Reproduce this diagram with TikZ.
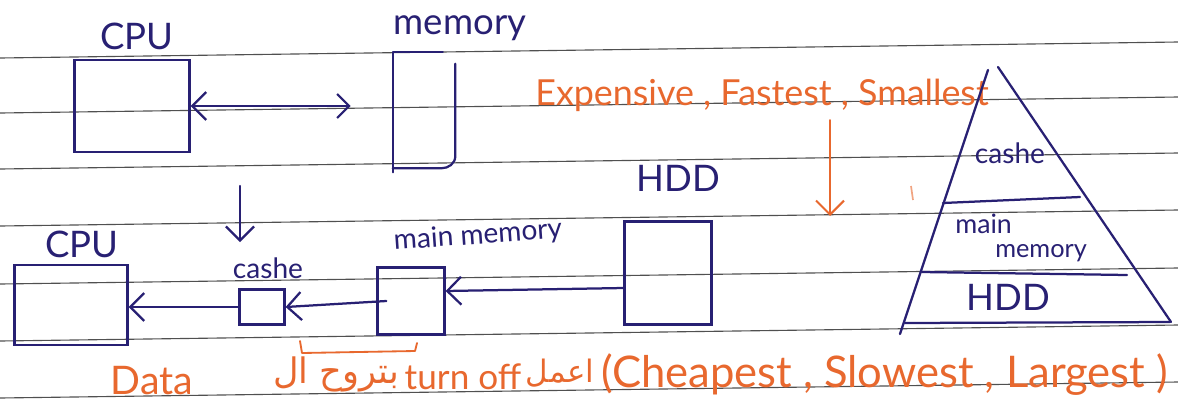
\documentclass[tikz,border=0pt]{standalone}
\usepackage{fontspec}
\setmainfont{Lato}
\newfontfamily\arabicfont[Script=Arabic]{DejaVu Sans}
\TeXXeTstate=1
\usetikzlibrary{arrows.meta}
\definecolor{ink}{RGB}{40,32,115}
\definecolor{pen}{RGB}{232,104,46}
\definecolor{rulec}{RGB}{80,80,80}
\tikzset{
  rule/.style={rulec, line width=0.8pt},
  inkline/.style={ink, line width=1.6pt, line cap=round, line join=round},
  box/.style={draw=ink, line width=1.6pt, inner sep=0pt},
  arr/.style={inkline, -{Straight Barb[length=3.5mm,width=7mm]}},
  oarr/.style={pen, line width=1.4pt, line cap=round, -{Straight Barb[length=3.5mm,width=7mm]}},
  lbl/.style={text=ink, inner sep=0pt, font=\fontsize{26}{28}\selectfont},
  slbl/.style={text=ink, inner sep=0pt, font=\fontsize{20}{22}\selectfont},
  olbl/.style={text=pen, inner sep=0pt, font=\fontsize{28}{30}\selectfont},
}
\begin{document}
\begin{tikzpicture}[x=0.025cm,y=-0.025cm]
\useasboundingbox[fill=white] (0,0) rectangle (1178,403);
% ruled lines
\foreach \yy in {58,113,169,226,284,341,398}
  \draw[rule] (0,\yy) -- (1178,\yy-16);

% ---- top row
\node[lbl] (cpuT) at (137,36) {CPU};
\node[lbl] (memT) at (460,28) {memory};
\node[box, minimum width=2.875cm, minimum height=2.3cm] (cpu1) at (132,106) {};
\node[minimum width=1.55cm, minimum height=3.0cm, inner sep=0pt] (mem1) at (424,112) {};
\draw[inkline] ([xshift=1.25cm]mem1.north west) -- (mem1.north west) -- (mem1.south west);
\draw[inkline] ([yshift=-0.3cm]mem1.north east) -- ([yshift=0.4cm]mem1.south east)
  to[out=-90,in=0] ([xshift=-0.35cm,yshift=0.1cm]mem1.south east) -- ([yshift=0.1cm]mem1.south west);
\draw[inkline, {Straight Barb[length=3.5mm,width=7mm]}-{Straight Barb[length=3mm,width=6mm]}, shorten >=1.05cm]
  (cpu1.east) -- (mem1.west |- cpu1.east);

% ---- second row
\coordinate (dn1) at (240,186);
\coordinate (dn2) at (240,242);
\draw[arr] (dn1) -- (dn2);
\node[lbl] (cpuB) at (82,244) {CPU};
\node[box, minimum width=2.825cm, minimum height=2.0cm] (cpu2) at (71,305) {};
\node[slbl] (cacheL) at (268,268) {cashe};
\node[box, minimum width=1.125cm, minimum height=0.875cm] (cache) at (262,307) {};
\node[slbl, rotate=4] (mmL) at (478,236) {main memory};
\node[box, minimum width=1.675cm, minimum height=1.675cm] (mm) at (411,301) {};
\node[lbl] (hddL) at (678,178) {HDD};
\node[box, minimum width=2.175cm, minimum height=2.575cm] (hdd) at (668,273) {};
\draw[arr] ([yshift=-0.375cm]hdd.west) -- ([yshift=0.25cm]mm.east);
\draw[arr] ([xshift=0.25cm]mm.west) -- (cache.east);
\draw[arr] (cache.west) -- (cpu2.east |- cache.west);

% orange bracket
\draw[pen, line width=1.3pt, line cap=round, line join=round]
  (300,341) -- (302,353) -- (415,351) -- (417,343);

% ---- right side
\node[olbl, anchor=west, font=\fontsize{25.5}{28}\selectfont] (exp) at (535,95) {Expensive , Fastest , Smallest};
\coordinate (oa1) at (830,120);
\coordinate (oa2) at (830,216);
\draw[oarr] (oa1) -- (oa2);
\draw[pen, line width=1.2pt, opacity=0.6] (911,186) -- (913,200);

% pyramid
\draw[inkline] (988,70) -- (900,334);
\draw[inkline] (998,67) -- (1171,322);
\draw[inkline] (943,203) -- (1080,197);
\draw[inkline] (922,272) -- (1127,275);
\draw[inkline] (905,323) -- (1170,322);
\node[slbl] (pc) at (1010,153) {cashe};
\node[slbl, anchor=west, font=\fontsize{19}{21}\selectfont] (pm1) at (955,224) {main};
\node[slbl, anchor=west, font=\fontsize{18}{20}\selectfont] (pm2) at (995,253) {memory};
\node[lbl] (ph) at (1008,297) {HDD};

% ---- bottom orange text
\node[olbl] (data) at (152,381) {Data};
\node[olbl, font=\fontsize{25}{27}\arabicfont] (ar1) at (336,374) {\beginR بتروح ال\endR};
\node[olbl, font=\fontsize{25}{27}\selectfont] (toff) at (463,377) {turn off};
\node[olbl, font=\fontsize{22}{24}\arabicfont] (ar2) at (560,373) {\beginR اعمل\endR};
\node[olbl, anchor=west, font=\fontsize{31}{33}\selectfont] (chp) at (601,375) {(Cheapest , Slowest , Largest )};
\end{tikzpicture}
\end{document}
